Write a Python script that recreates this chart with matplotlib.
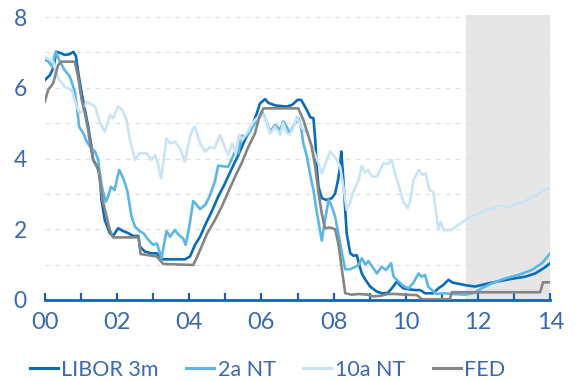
import matplotlib
matplotlib.use('Agg')
import matplotlib.pyplot as plt
import numpy as np

plt.rcParams['font.family'] = ['Lato', 'DejaVu Sans']

# 금리 시계열 (연도, %)
libor_t = [2000.0, 2000.14, 2000.23, 2000.32, 2000.45, 2000.55, 2000.68, 2000.79, 2000.86, 2000.92,
           2001.02, 2001.11, 2001.2, 2001.29, 2001.34, 2001.43, 2001.52, 2001.57, 2001.66, 2001.8,
           2001.89, 2002.03, 2002.15, 2002.31, 2002.45, 2002.59, 2002.63, 2002.77, 2002.96, 2003.1,
           2003.28, 2003.5, 2003.7, 2003.88, 2004.02, 2004.16, 2004.3, 2004.44, 2004.62, 2004.8,
           2004.99, 2005.18, 2005.36, 2005.54, 2005.73, 2005.87, 2005.96, 2006.1, 2006.2, 2006.4,
           2006.7, 2006.85, 2007.0, 2007.1, 2007.26, 2007.35, 2007.44, 2007.49, 2007.53, 2007.58,
           2007.67, 2007.8, 2007.95, 2008.04, 2008.12, 2008.18, 2008.21, 2008.27, 2008.36, 2008.46,
           2008.55, 2008.64, 2008.72, 2008.78, 2008.88, 2009.01, 2009.19, 2009.33, 2009.5, 2009.61,
           2009.75, 2009.84, 2009.93, 2010.1, 2010.26, 2010.4, 2010.53, 2010.76, 2010.9, 2011.03,
           2011.18, 2011.3, 2011.41, 2011.64, 2011.92, 2012.2, 2012.57, 2012.94, 2013.31, 2013.58,
           2013.82, 2014.0]
libor_v = [6.22, 6.36, 6.55, 7.02, 6.98, 6.93, 6.95, 7.02, 6.9, 6.46,
           5.85, 5.38, 4.9, 4.34, 3.96, 3.8, 3.58, 2.83, 2.26, 1.89,
           1.81, 2.03, 1.96, 1.89, 1.81, 1.81, 1.51, 1.37, 1.32, 1.32,
           1.15, 1.15, 1.15, 1.15, 1.23, 1.56, 1.79, 2.12, 2.5, 2.92,
           3.3, 3.72, 4.1, 4.53, 4.9, 5.28, 5.56, 5.68, 5.57, 5.5,
           5.47, 5.52, 5.66, 5.66, 5.37, 5.17, 5.14, 4.52, 3.77, 3.2,
           2.88, 2.83, 2.88, 3.01, 3.39, 3.77, 4.2, 3.39, 1.89, 1.32,
           1.25, 1.27, 0.95, 0.75, 0.57, 0.38, 0.24, 0.19, 0.2, 0.33,
           0.52, 0.42, 0.33, 0.3, 0.28, 0.28, 0.19, 0.19, 0.33, 0.42,
           0.57, 0.49, 0.47, 0.42, 0.38, 0.45, 0.53, 0.6, 0.66, 0.75,
           0.9, 1.04]

nt2_t = [2000.0, 2000.1, 2000.2, 2000.3, 2000.42, 2000.55, 2000.69, 2000.83, 2000.9, 2000.95,
         2001.07, 2001.16, 2001.25, 2001.39, 2001.48, 2001.52, 2001.6, 2001.69, 2001.75, 2001.83,
         2001.93, 2002.06, 2002.15, 2002.22, 2002.29, 2002.4, 2002.5, 2002.63, 2002.73, 2002.87,
         2003.0, 2003.1, 2003.15, 2003.23, 2003.37, 2003.47, 2003.6, 2003.7, 2003.83, 2003.9,
         2004.0, 2004.11, 2004.2, 2004.3, 2004.45, 2004.57, 2004.71, 2004.8, 2004.95, 2005.08,
         2005.18, 2005.27, 2005.36, 2005.45, 2005.55, 2005.64, 2005.73, 2005.87, 2006.01, 2006.12,
         2006.24, 2006.38, 2006.52, 2006.6, 2006.7, 2006.78, 2006.9, 2007.03, 2007.1, 2007.16,
         2007.26, 2007.35, 2007.44, 2007.53, 2007.67, 2007.76, 2007.86, 2007.95, 2008.04, 2008.13,
         2008.23, 2008.32, 2008.46, 2008.6, 2008.7, 2008.78, 2008.88, 2008.96, 2009.1, 2009.2,
         2009.33, 2009.45, 2009.59, 2009.66, 2009.8, 2009.93, 2010.07, 2010.2, 2010.35, 2010.44,
         2010.53, 2010.62, 2010.72, 2010.85, 2011.05, 2011.3, 2011.64, 2011.9, 2012.1, 2012.38,
         2012.75, 2013.12, 2013.49, 2013.77, 2014.0]
nt2_v = [6.79, 6.74, 6.6, 7.02, 6.74, 6.5, 6.32, 5.9, 5.37, 4.9,
         4.71, 4.48, 4.34, 4.2, 3.96, 3.58, 3.11, 2.78, 2.92, 3.2,
         3.11, 3.68, 3.49, 3.3, 3.06, 2.36, 2.07, 1.94, 1.89, 1.7,
         1.56, 1.6, 1.45, 1.18, 1.95, 1.79, 1.98, 1.85, 1.74, 1.56,
         2.07, 2.8, 2.7, 2.57, 2.7, 2.95, 3.35, 3.8, 3.78, 3.77,
         4.0, 4.2, 4.15, 4.65, 4.62, 4.7, 4.85, 5.09, 5.33, 5.09,
         4.76, 4.95, 4.81, 5.05, 4.9, 4.71, 4.95, 5.14, 4.85, 4.43,
         4.05, 3.54, 3.11, 2.5, 1.68, 2.26, 2.83, 2.64, 2.36, 1.89,
         1.32, 0.87, 0.87, 0.94, 1.0, 1.18, 1.0, 1.1, 0.9, 0.75,
         0.94, 0.85, 1.04, 0.66, 0.52, 0.4, 0.33, 0.47, 0.75, 0.66,
         0.71, 0.38, 0.28, 0.17, 0.19, 0.17, 0.15, 0.2, 0.33, 0.47,
         0.61, 0.71, 0.85, 1.04, 1.32]

nt10_t = [2000.0, 2000.23, 2000.3, 2000.37, 2000.55, 2000.74, 2000.88, 2000.97, 2001.05, 2001.15,
          2001.25, 2001.39, 2001.52, 2001.66, 2001.8, 2001.89, 2002.03, 2002.15, 2002.26, 2002.36,
          2002.5, 2002.62, 2002.82, 2002.96, 2003.05, 2003.12, 2003.22, 2003.37, 2003.47, 2003.6,
          2003.74, 2003.88, 2004.02, 2004.11, 2004.16, 2004.3, 2004.44, 2004.57, 2004.7, 2004.85,
          2004.99, 2005.08, 2005.19, 2005.28, 2005.38, 2005.47, 2005.64, 2005.78, 2005.87, 2006.01,
          2006.12, 2006.24, 2006.38, 2006.52, 2006.6, 2006.68, 2006.78, 2006.88, 2006.98, 2007.1,
          2007.26, 2007.44, 2007.58, 2007.67, 2007.81, 2007.9, 2008.04, 2008.18, 2008.27, 2008.36,
          2008.45, 2008.52, 2008.69, 2008.78, 2008.87, 2008.96, 2009.06, 2009.2, 2009.38, 2009.5,
          2009.61, 2009.7, 2009.84, 2009.93, 2010.05, 2010.13, 2010.21, 2010.36, 2010.46, 2010.55,
          2010.65, 2010.76, 2010.9, 2010.97, 2011.05, 2011.26, 2011.38, 2011.64, 2011.8, 2012.06,
          2012.2, 2012.43, 2012.57, 2012.87, 2013.06, 2013.26, 2013.45, 2013.63, 2013.81, 2014.0]
nt10_v = [6.88, 6.74, 6.45, 6.27, 6.03, 5.94, 5.47, 5.28, 5.35, 5.6,
          5.56, 5.47, 5.04, 4.75, 5.23, 5.14, 5.47, 5.37, 5.09, 4.52,
          3.96, 4.15, 4.15, 3.96, 4.1, 3.9, 3.44, 4.57, 4.43, 4.48,
          4.3, 3.91, 4.62, 4.86, 4.9, 4.43, 4.2, 4.33, 4.29, 4.67,
          4.3, 4.1, 4.43, 4.15, 4.67, 4.52, 4.8, 5.05, 5.14, 5.28,
          5.09, 4.71, 4.9, 4.67, 5.0, 4.75, 4.67, 4.86, 5.19, 4.9,
          4.71, 4.24, 3.87, 3.58, 3.96, 4.2, 4.05, 3.77, 3.2, 2.55,
          2.73, 3.0, 3.39, 3.8, 3.6, 3.68, 3.49, 3.49, 3.87, 3.85,
          3.96, 3.58, 3.11, 2.78, 2.6, 2.83, 3.39, 3.68, 3.54, 3.58,
          3.11, 3.06, 2.0, 2.2, 1.98, 1.98, 2.07, 2.26, 2.36, 2.45,
          2.55, 2.59, 2.66, 2.64, 2.71, 2.78, 2.88, 2.97, 3.11, 3.18]

fed_t = [2000.0, 2000.09, 2000.23, 2000.37, 2000.46, 2000.83, 2000.92, 2001.02, 2001.11, 2001.2,
         2001.25, 2001.34, 2001.48, 2001.52, 2001.6, 2001.71, 2001.8, 2001.89, 2002.6, 2002.65,
         2003.1, 2003.28, 2004.11, 2004.2, 2004.34, 2004.5, 2004.71, 2004.9, 2005.08, 2005.27,
         2005.45, 2005.64, 2005.82, 2005.92, 2006.05, 2007.02, 2007.16, 2007.28, 2007.39, 2007.49,
         2007.58, 2007.67, 2007.76, 2007.9, 2008.04, 2008.13, 2008.23, 2008.32, 2008.5, 2008.7,
         2008.95, 2009.1, 2009.3, 2009.5, 2009.7, 2010.0, 2010.3, 2010.45, 2011.22, 2011.27,
         2013.72, 2013.8, 2014.0]
fed_v = [5.61, 5.94, 6.13, 6.65, 6.74, 6.74, 6.32, 5.66, 5.28, 4.81,
         4.43, 3.96, 3.72, 3.39, 2.83, 2.36, 1.98, 1.77, 1.77, 1.3,
         1.23, 1.02, 0.99, 1.18, 1.51, 1.89, 2.26, 2.64, 3.06, 3.49,
         3.87, 4.34, 4.71, 5.1, 5.42, 5.42, 5.09, 4.71, 4.34, 3.77,
         3.02, 2.45, 2.03, 2.05, 2.0, 1.6, 0.85, 0.19, 0.15, 0.17,
         0.15, 0.1, 0.12, 0.17, 0.17, 0.15, 0.14, 0.02, 0.02, 0.22,
         0.22, 0.5, 0.5]

series_names = ['LIBOR 3m', '2a NT', '10a NT', 'FED']
series_colors = ['#0a6cb4', '#5cb6e6', '#c8e4f6', '#858585']
forecast_start = 2011.67

txt_color = '#3a6aad'

fig = plt.figure(figsize=(5.75, 3.81), dpi=100)
ax = fig.add_axes([0.078, 0.2126, 0.879, 0.748])

ax.axvspan(forecast_start, 2014, color='#e6e6e6', lw=0, zorder=0)

series = [(libor_t, libor_v), (nt2_t, nt2_v), (nt10_t, nt10_v), (fed_t, fed_v)]
for (t, v), name, c in zip(series, series_names, series_colors):
    ax.plot(t, v, color=c, lw=1.9, label=name, zorder=3, solid_joinstyle='round')

# 보조 격자선 (점선)
for y in range(1, 9):
    ax.axhline(y, color='#e2e2e2', lw=0.9, dashes=(4, 4), zorder=1)

ax.set_xlim(2000, 2014)
ax.set_ylim(0, 8.06)

ax.set_xticks(np.arange(2000, 2015, 1))
ax.set_xticklabels([('%02d' % (y - 2000)) if y % 2 == 0 else '' for y in range(2000, 2015)])
ax.set_yticks([0, 2, 4, 6, 8])

for s in ['left', 'right', 'top']:
    ax.spines[s].set_visible(False)
ax.spines['bottom'].set_color('#1565b0')
ax.spines['bottom'].set_linewidth(2.0)

ax.tick_params(axis='x', direction='in', length=5, width=1.6, color='#1565b0',
               labelsize=17, labelcolor=txt_color, pad=9)
ax.tick_params(axis='y', length=0, labelsize=16.5, labelcolor=txt_color, pad=13)

leg = fig.legend(loc='center', bbox_to_anchor=(0.465, 0.03), ncol=4, frameon=False,
                 fontsize=15.5, handlelength=1.3, handletextpad=0.15, columnspacing=1.3)
for txt in leg.get_texts():
    txt.set_color(txt_color)
for line in leg.get_lines():
    line.set_linewidth(2.2)

fig.savefig('out.png', dpi=100)
